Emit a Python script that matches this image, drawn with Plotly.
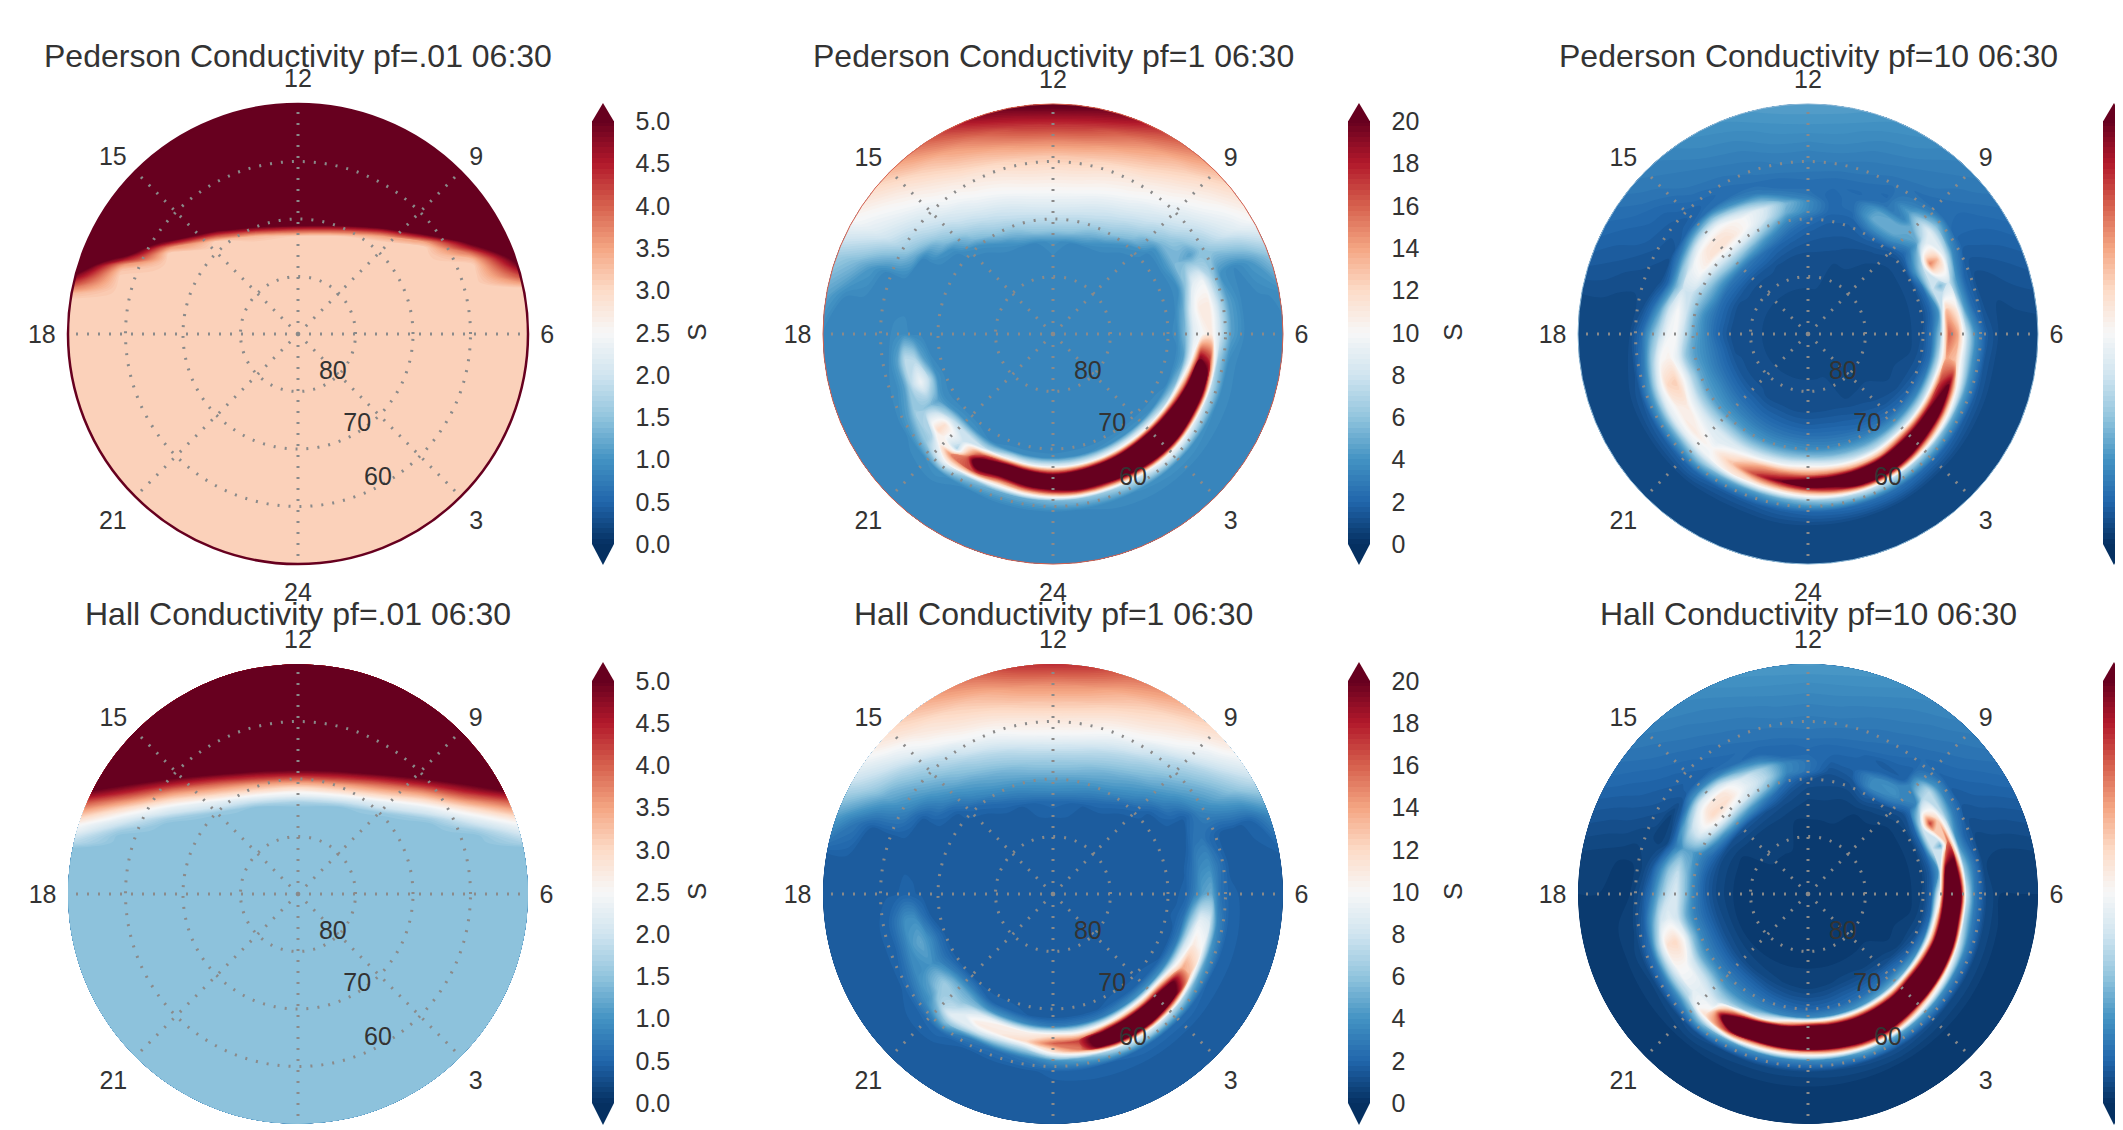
import math
import plotly.graph_objects as go

PAGE_W, PAGE_H, BODY = 2123, 1130, 8      # the page keeps its default 8 px body margin
W, H = PAGE_W - BODY, PAGE_H - BODY

MLT_ANGLE = list(range(0, 360, 10))       # degrees clockwise from 12 MLT
COLAT = [0, 8, 13, 16, 18, 20, 21.5, 23, 24.5, 26, 27.5, 29, 31, 33.5, 36.5, 40]
DISK_U = [-1, -.8, -.6, -.4, -.2, 0, .2, .4, .6, .8, 1]
DISK_Y = [-40, -39, -37, -34, -30, -25, -20, -15, -10, -5, 0, 3, 6, 7, 8, 9, 10, 11, 12,
          13, 14, 15, 16, 17, 18, 19, 20, 21, 22, 23, 25, 28, 31, 34, 37, 39, 40]
MLT_LABELS = ["12", "9", "6", "3", "24", "21", "18", "15"]
LAT_LABELS = ["80", "70", "60"]
LAT_LABEL_R = [9.05, 18.9, 28.7]
LAT_LABEL_T = [138, 147, 151]
RDBU_R = ["#053061", "#2166ac", "#4393c3", "#92c5de", "#d1e5f0", "#f7f7f7",
          "#fddbc7", "#f4a582", "#d6604d", "#b2182b", "#67001f"]

P = 3.1
PED_001 = [[P]*11]*13 + [
 [3.3,P,P,P,P,P,P,P,P,P,P],
 [3.8,P,P,P,P,P,P,P,P,P,P],
 [4.3,P,P,P,P,P,P,P,P,P,3.6],
 [4.8,P,P,P,P,P,P,P,P,P,4.1],
 [5.3,3.2,P,P,P,P,P,P,P,P,4.5],
 [5.8,3.6,P,P,P,P,P,P,P,P,4.9],
 [6,4.6,P,P,P,P,P,P,P,3.3,5.2],
 [6,5.4,P,P,P,P,P,P,P,3.8,5.6],
 [6,6,3.6,P,P,P,P,P,P,4.5,6],
 [6,6,4.7,P,P,P,P,P,3.5,5.1,6],
 [6,6,5.7,4.1,3.3,P,P,3.5,4.6,6,6],
 [6,6,6,5.1,4.4,4.1,4.1,4.5,5.6,6,6],
 [6,6,6,6,5.4,5.2,5.2,5.6,6,6,6],
] + [[6]*11]*11

Q = 1.45
HALL_001 = [[Q]*11]*14 + [
 [1.5,Q,Q,Q,Q,Q,Q,Q,Q,Q,Q],
 [1.8,Q,Q,Q,Q,Q,Q,Q,Q,Q,1.7],
 [2,Q,Q,Q,Q,Q,Q,Q,Q,Q,1.9],
 [2.3,1.6,Q,Q,Q,Q,Q,Q,Q,1.6,2.15],
 [2.5,1.9,Q,Q,Q,Q,Q,Q,Q,1.9,2.4],
 [2.9,2.2,1.6,Q,Q,Q,Q,Q,1.6,2.2,2.75],
 [3.3,2.55,2,1.55,Q,Q,Q,1.55,2,2.55,3.2],
 [3.7,3,2.3,2,Q,Q,Q,2,2.3,3,3.6],
 [4.1,3.5,2.8,2.3,1.9,1.7,1.9,2.3,2.8,3.5,4],
 [4.6,4,3.3,2.9,2.4,2.2,2.4,2.9,3.3,4,4.5],
 [5,4.5,3.8,3.4,3,2.7,3,3.4,3.8,4.5,5],
 [5.5,4.9,4.4,3.9,3.5,3.3,3.5,3.9,4.4,4.9,5.5],
 [6,5.4,4.9,4.5,4.2,4,4.2,4.5,4.9,5.4,6],
 [6,6,5.5,5.1,4.8,4.7,4.8,5.1,5.5,6,6],
 [6,6,6,5.6,5.4,5.3,5.4,5.6,6,6,6],
] + [[6]*11]*8

B = 3.4
PED_1 = [
 [B,B,3.4,3.9,6,7.4,8.2,9,9.8,10.4,11,11.7,12.8,14.8,17.4,20.5],
 [B,B,3.4,3.5,5.9,7.2,8,8.8,9.6,10.3,10.9,11.6,12.6,14.5,17,20],
 [B,B,B,B,5,6.6,7.6,8.2,9,9.8,10.4,11,11.9,13.5,15.6,18.8],
 [B,B,B,B,3.9,5.9,6.8,7.6,8.3,9.1,9.8,10.4,11.1,12.4,14,16.5],
 [B,B,B,B,B,3.9,5.5,6.4,7.3,8,8.6,9.4,10.1,11,12.3,14.4],
 [B,B,B,B,B,B,B,4,5.5,6.3,7.2,7.8,8.5,9.6,10.6,12],
 [B,B,B,B,B,B,B,4.2,5.5,5,4.5,5.6,6.6,7.7,8.8,10],
 [B,B,B,B,B,B,B,3.7,6,9,9.5,7,4,B,4.2,6],
 [B,B,B,B,B,B,3.5,5,9,11,11,8,4.5,B,B,3.6],
 [B,B,B,B,B,B,3.6,5.5,9,10,11,8,4.5,B,B,B],
 [B,B,B,B,B,B,B,4.5,10,20,18,6.5,3.6,B,B,B],
 [B,B,B,B,B,B,B,5.5,15,28,24,7.5,3.7,B,B,B],
 [B,B,B,B,B,B,3.6,7,20,30,25,8.5,3.8,B,B,B],
 [B,B,B,B,B,B,3.8,9,24,34,28,10,4,B,B,B],
 [B,B,B,B,B,B,4,10,26,34,26,10,4,B,B,B],
 [B,B,B,B,B,B,4,10,25,32,22,8,3.8,B,B,B],
 [B,B,B,B,B,B,3.8,9.5,24,30,19,6.5,3.6,B,B,B],
 [B,B,B,B,B,B,3.7,9,22,28,19,6,3.5,B,B,B],
 [B,B,B,B,B,B,3.6,9,20,26,17,5.5,B,B,B,B],
 [B,B,B,B,B,B,3.6,9,22,25,15,5,B,B,B,B],
 [B,B,B,B,B,B,3.6,9.5,23,22,13,5,B,B,B,B],
 [B,B,B,B,B,B,3.5,7,17,24,17,6,B,B,B,B],
 [B,B,B,B,B,B,4,8,8,7,15,10,4,B,B,B],
 [B,B,B,B,B,B,4,7.5,11.5,12,7,6,3.6,B,B,B],
 [B,B,B,B,B,B,3.6,4.5,5.5,6,6.5,4.5,B,B,B,B],
 [B,B,B,B,B,B,4,7.5,9.5,7.5,4.5,3.6,B,B,B,B],
 [B,B,B,B,B,B,3.5,4.5,7,7.5,4.5,3.5,B,B,B,B],
 [B,B,B,B,B,B,B,B,B,3.7,3.6,B,B,B,B,B],
 [B,B,B,B,B,B,B,B,B,B,B,B,B,B,B,4.6],
 [B,B,B,B,B,B,B,B,B,B,B,B,B,4.2,5.5,6.5],
 [B,B,B,B,B,B,B,B,B,B,5,6.1,7,8,9,10],
 [B,B,B,B,B,B,B,4,5.5,6.3,7.2,7.8,8.5,9.6,10.6,12],
 [B,B,B,B,B,3.9,5.5,6.4,7.3,8,8.6,9.4,10.1,11,12.3,14.4],
 [B,B,B,B,3.9,5.9,6.8,7.6,8.3,9.1,9.8,10.4,11.1,12.4,14,16.5],
 [B,B,B,B,5,6.6,7.6,8.2,9,9.8,10.4,11,11.9,13.5,15.6,18.8],
 [B,B,3.4,3.5,5.9,7.2,8,8.8,9.6,10.3,10.9,11.6,12.6,14.5,17,20],
]

G = 1.7
HALL_1 = [
 [G,G,G,2.2,3.6,4.6,5.5,6.3,7.2,8.4,9.6,10.5,11.5,12.9,14.7,17.5],
 [G,G,G,2,3.4,4.4,5.3,6.1,7,8,9.3,10.3,11.2,12.6,14.4,17],
 [G,G,G,G,2.9,4,4.8,5.5,6.4,7.2,8.3,9.4,10.5,11.8,13.3,15.5],
 [G,G,G,G,2.2,3.4,4.2,4.8,5.6,6.4,7.2,8.3,9.7,11,12.2,14.2],
 [G,G,G,G,G,2.2,3.2,3.9,4.5,5.3,5.9,6.7,7.6,9.6,11,12.6],
 [G,G,G,G,G,G,G,2.3,3.2,3.8,4.4,5,5.8,7,8.9,10.8],
 [G,G,G,G,G,G,G,G,G,G,2.4,3.3,4,4.9,6.1,7.7],
 [G,G,G,G,G,G,G,G,G,2.6,2.8,2.2,G,G,1.8,3.5],
 [G,G,G,G,G,G,G,G,2.5,3.6,3.8,2.8,G,G,G,G],
 [G,G,G,G,G,G,G,1.9,3,4.5,5,2.6,1.8,G,G,G],
 [G,G,G,G,G,G,1.8,2.6,6,9,8.5,3.5,1.9,G,G,G],
 [G,G,G,G,G,G,G,3,8,11,10,4.2,2,G,G,G],
 [G,G,G,G,G,G,G,3.5,9.5,14,13,5,2,G,G,G],
 [G,G,G,G,G,G,2,4,14,24,21,7,2.2,G,G,G],
 [G,G,G,G,G,G,2,4,14,28,26,8.5,2.2,G,G,G],
 [G,G,G,G,G,G,2,3.5,13,27,28,9,2.2,G,G,G],
 [G,G,G,G,G,G,G,3,11,24,24,7,2,G,G,G],
 [G,G,G,G,G,G,G,3,10,17,15,5,1.9,G,G,G],
 [G,G,G,G,G,G,G,3,11,16,11,4,1.8,G,G,G],
 [G,G,G,G,G,G,G,3.5,10.5,12,6.5,2.8,G,G,G,G],
 [G,G,G,G,G,G,2,4,10.5,11,6.5,2.5,G,G,G,G],
 [G,G,G,G,G,G,2,4,9,11,8,3,G,G,G,G],
 [G,G,G,G,G,G,3,5,6,7.5,9,6,2.2,G,G,G],
 [G,G,G,G,G,G,3,5,6.5,6,4.5,3.5,2,G,G,G],
 [G,G,G,G,G,G,2.4,3.3,4,3.8,3.6,2.6,G,G,G,G],
 [G,G,G,G,G,G,2.6,3.8,4.8,4.2,3,2,G,G,G,G],
 [G,G,G,G,G,G,G,2.6,3.8,3.8,2.8,2,G,G,G,G],
 [G,G,G,G,G,G,G,G,1.8,1.9,G,G,G,G,G,G],
 [G]*16,
 [G,G,G,G,G,G,G,G,G,G,G,G,G,G,2.8,4.5],
 [G,G,G,G,G,G,G,G,G,G,2.4,3.3,4,4.9,6.5,8],
 [G,G,G,G,G,G,G,2.3,3.2,3.8,4.4,5,5.8,7,8.9,10.8],
 [G,G,G,G,G,2.2,3.2,3.9,4.5,5.3,5.9,6.7,7.6,9.6,11,12.6],
 [G,G,G,G,2.2,3.4,4.2,4.8,5.6,6.4,7.2,8.3,9.7,11,12.2,14.2],
 [G,G,G,G,2.9,4,4.8,5.5,6.4,7.2,8.3,9.4,10.5,11.8,13.3,15.5],
 [G,G,G,2,3.4,4.4,5.3,6.1,7,8,9.3,10.3,11.2,12.6,14.4,17],
]

PED_10 = [
 [1,1,1.1,1.5,1.8,2.4,3.5,3.6,2.6,2.4,2.6,2.9,3.1,3.5,4,4.5],
 [1,1,1.1,1.4,1.6,1.8,2.1,2.1,2.1,2.3,2.5,2.8,3.1,3.5,3.9,4.4],
 [1,1,1,1.3,1.5,1.7,2,2.4,2.5,2.2,2.4,2.7,2.9,3.2,3.6,4.1],
 [1,1,1,1.1,1.4,2,3.5,5,4.5,2.6,2.2,2.4,2.7,3,3.4,3.8],
 [1,1,1,1,1.2,1.7,3.5,5,5,3.4,4.5,3.2,2.4,2.8,3,3.3],
 [1,1,1,1,1,1.2,2,3.2,4.5,7.5,9,6,2.5,2.3,2.6,2.9],
 [1,1,1,1,1,1.2,4,7,15,13,8,3.5,1.8,1.9,2,2.3],
 [1,1,1,1,1,1.2,2.4,8,5.5,8,4,2,1.2,1.3,1.5,1.7],
 [1,1,1,1,1,1.1,2,4,13,11,4.5,2.2,1.2,1,1.1,1.2],
 [1,1,1,1,1,1.3,2.5,6,16,14,8,4,1.6,.9,.8,.8],
 [1,1,1,1,1,1.4,2.4,7,14,13,8,4,1.5,.8,.8,.8],
 [1,1,1,1,1.1,1.6,3,8,17,20,10,4.5,1.6,.8,.8,.8],
 [1,1,1,1,1.2,1.9,3.5,8,18,25,13,5,1.7,.8,.8,.8],
 [1,1,1,1.1,1.4,2.2,4,8,18,28,16,6,2,.8,.8,.8],
 [1,1,1,1.3,1.7,2.6,4.2,8,17,29,20,7,2.2,.8,.8,.8],
 [1,1,1,1.5,2,3,4.5,7.5,14,27,24,8,2.5,.9,.8,.8],
 [1,1,1.1,1.7,2.3,3.3,5,8,14,26,22,8,2.4,.9,.8,.8],
 [1,1,1.1,1.8,2.5,3.5,5.5,9,15,25,17,7,2.2,.9,.8,.8],
 [1,1,1.1,1.8,2.6,3.7,6,10,15,24,14,6,2,.9,.8,.8],
 [1,1,1.1,1.9,2.7,3.9,6,9.5,15,20,12,5,1.8,.9,.8,.8],
 [1,1,1.2,2,2.8,4,6,9,14,17,11,4.5,1.6,.8,.8,.8],
 [1,1,1.2,2.1,3,4.2,6,8.5,11,13,11,5,1.6,.8,.8,.8],
 [1,1,1.3,2.3,3.2,4.5,6.5,8.5,9,10,9.5,6,2,.8,.8,.8],
 [1,1,1.3,2.4,3.4,4.5,6.5,8.5,10,11,9,5,1.8,.8,.8,.8],
 [1,1,1.3,2.5,3.6,4.6,6.5,9,11,10.5,9,5,1.7,.8,.8,.8],
 [1,1,1.3,2.5,3.5,4.8,7,10,12.5,12,8.5,4.5,1.5,.8,.8,.8],
 [1,1,1.2,2.5,3.5,4.5,6,9,10.5,10,6.5,3,1.1,.8,.8,.8],
 [1,1,1.1,2.2,3.5,5,7.5,10,9.5,7,4.5,2.2,1,.8,.8,.8],
 [1,1,1.2,2.3,3.5,5.5,8,10,8,4.5,2.2,1.2,.9,.9,1,1],
 [1,1,1.2,2.4,4.5,6.5,8,8,5,2,1,1.1,1.2,1.3,1.5,1.7],
 [1,1,1.3,2.6,5,8,10,9.5,6.5,3,1.3,1.4,1.6,1.9,2,2.3],
 [1,1,1.3,2.8,6,9,11.5,11,9,5,2,1.6,1.8,2.1,2.6,2.9],
 [1,1,1.3,2.8,6,9.5,11.5,11,9.5,6,2.5,2,2.4,2.8,3,3.3],
 [1,1,1.3,2.5,5,8.5,10,10,7.5,4,2.4,2.4,2.7,3,3.4,3.8],
 [1,1,1.2,2,3.5,6,8,8.5,5.5,3,2.4,2.7,2.9,3.2,3.6,4.1],
 [1,1,1.1,1.7,2.3,3.5,5,5.5,3.2,2.3,2.5,2.9,3.1,3.5,3.9,4.4],
]

HALL_10 = [
 [.5,.5,.5,.7,.9,1.3,2.6,2.6,2.2,2.3,2.6,2.8,3,3.3,3.7,4.3],
 [.5,.5,.5,.7,.9,1.1,1.3,1.7,2,2.2,2.5,2.7,3,3.3,3.7,4.2],
 [.5,.5,.5,.6,.8,1.1,1.5,1.8,1.9,2.1,2.4,2.6,2.8,3.1,3.5,4],
 [.5,.5,.5,.5,.9,1.8,3.5,3.6,2,1.6,2.2,2.4,2.6,2.9,3.2,3.6],
 [.5,.5,.5,.5,.7,1.2,3,4,3.4,1.8,1.8,2.1,2.3,2.6,2.9,3.3],
 [.5,.5,.5,.5,.5,.8,1.2,2.5,3.5,7,7.5,4,1.9,2.2,2.5,2.8],
 [.5,.5,.5,.5,.5,.7,2,8,17,12,6,3,1.5,1.7,1.9,2.2],
 [.5,.5,.5,.5,.5,.7,2,8,5,16,4,2,1,1.1,1.2,1.4],
 [.5,.5,.5,.5,.5,.7,1.6,4,22,22,6,3,.8,.6,.6,.7],
 [.5,.5,.5,.5,.5,.8,2,10,30,28,8,3,1,.5,.5,.5],
 [.5,.5,.5,.5,.5,.9,2.2,14,30,26,7,3,1,.5,.5,.5],
 [.5,.5,.5,.5,.6,1.2,3,15,31,30,9,3.5,1,.5,.5,.5],
 [.5,.5,.5,.5,.7,1.8,4,18,32,32,11,3.5,1,.5,.5,.5],
 [.5,.5,.5,.6,1.1,2.5,5,20,34,34,13,4,1,.5,.5,.5],
 [.5,.5,.5,.7,1.4,2.6,5,18,34,34,16,4.5,1.1,.5,.5,.5],
 [.5,.5,.5,.8,1.5,2.5,4.5,18,34,34,20,5,1.2,.5,.5,.5],
 [.5,.5,.5,.8,1.5,2.3,4,18,33,33,19,5,1.1,.5,.5,.5],
 [.5,.5,.5,.7,1.3,2.1,3.7,19,33,33,16,4,1,.5,.5,.5],
 [.5,.5,.5,.6,1.2,2,3.5,20,32,32,14,3.5,.9,.5,.5,.5],
 [.5,.5,.5,.7,1.3,2.2,3.5,15,32,32,14,3.5,.9,.5,.5,.5],
 [.5,.5,.5,.8,1.5,2.5,3.5,9,28,32,15,4,.9,.5,.5,.5],
 [.5,.5,.5,.9,1.8,2.8,3.7,6,18,30,18,5,1,.5,.5,.5],
 [.5,.5,.5,1,2,3,4,6,8,10,12,6,1.2,.5,.5,.5],
 [.5,.5,.5,1.1,2.1,3.2,5,7.5,9,9,7,3.5,.9,.5,.5,.5],
 [.5,.5,.5,1.2,2.2,3.3,5,8,10,10,7,3,.8,.5,.5,.5],
 [.5,.5,.5,1.2,2.2,3.5,6,10,12,11.5,7,2.6,.9,.5,.5,.5],
 [.5,.5,.5,1.1,2,3.2,5,8,9,8,4.5,1.8,.7,.5,.5,.5],
 [.5,.5,.5,1,1.8,3.5,6,8.5,7.5,5,2.5,1.2,.5,.5,.5,.5],
 [.5,.5,.5,1,1.8,3.5,5.5,7.5,6,3.5,1.5,.8,.5,.5,.6,.7],
 [.5,.5,.5,1,2.2,3.6,4.5,4.5,3,1,.6,.8,.9,1.1,1.2,1.4],
 [.5,.5,.5,1.1,3.5,7.5,9,8,5,1.6,.7,1.3,1.5,1.7,1.9,2.2],
 [.5,.5,.6,1.3,5,10,12,11,8.5,4,1.8,1.7,1.9,2.2,2.5,2.8],
 [.5,.5,.6,1.4,5,9.5,11.5,11,8,3.5,1.9,2.1,2.3,2.6,2.9,3.3],
 [.5,.5,.6,1.3,4,8,9,8.5,5,2.4,2.2,2.4,2.6,2.9,3.2,3.6],
 [.5,.5,.6,1.1,2.4,5.5,7,6.5,3.5,2,2.4,2.6,2.8,3.1,3.5,4],
 [.5,.5,.5,.9,1.3,2.3,3.5,3.5,2,2.2,2.5,2.7,3,3.3,3.7,4.2],
]

TITLES = ["Pederson Conductivity pf=.01 06:30", "Pederson Conductivity pf=1 06:30",
          "Pederson Conductivity pf=10 06:30", "Hall Conductivity pf=.01 06:30",
          "Hall Conductivity pf=1 06:30", "Hall Conductivity pf=10 06:30"]
TABLES = [PED_001, PED_1, PED_10, HALL_001, HALL_1, HALL_10]
VMAX = [5, 20, 20, 5, 20, 20]
TICK5 = [0, .5, 1, 1.5, 2, 2.5, 3, 3.5, 4, 4.5, 5]
TICK5_TEXT = ["0.0", "0.5", "1.0", "1.5", "2.0", "2.5", "3.0", "3.5", "4.0", "4.5", "5.0"]
TICK20 = [0, 2, 4, 6, 8, 10, 12, 14, 16, 18, 20]
RIM = [("#67001f", 2.5), ("#d6604d", 1), ("#8fbad8", 1), None, None, None]

CX = [298, 1053, 1808]
CY = [334, 894]
R = 230
CB_X = [592, 1348, 2103]
CB_Y = [(121.5, 544, 103, 565), (681, 1103, 662, 1125)]
FONT = "Liberation Sans"
TXT = "#333333"
GRID = "#8a8a8a"


def fx(px):
    return (px - BODY) / W


def fy(py):
    return 1 - (py - BODY) / H


colorscale = [[i / 10, c] for i, c in enumerate(RDBU_R)]
polar_a = MLT_ANGLE + [360]
polar_x = [[c * math.sin(math.radians(t)) for t in polar_a] for c in COLAT]
polar_y = [[c * math.cos(math.radians(t)) for t in polar_a] for c in COLAT]
disk_x = [[u * math.sqrt(max(40 ** 2 - y ** 2, 0)) for u in DISK_U] for y in DISK_Y]
disk_y = [[y for _ in DISK_U] for y in DISK_Y]

fig = go.Figure()
layout = {}
shapes, annots = [], []
for i in range(6):
    row, col = i // 3, i % 3
    s = "" if i == 0 else str(i + 1)
    cx, cy = CX[col], CY[row]
    dom_x = [fx(cx - R), fx(cx + R)]
    dom_y = [fy(cy + R), fy(cy - R)]
    layout["xaxis" + s] = dict(domain=dom_x, range=[-40, 40], visible=False, anchor="y" + s)
    layout["yaxis" + s] = dict(domain=dom_y, range=[-40, 40], visible=False, anchor="x" + s)
    rim = RIM[i]
    layout["polar" + s] = dict(
        domain=dict(x=dom_x, y=dom_y),
        bgcolor="rgba(0,0,0,0)",
        angularaxis=dict(
            direction="clockwise", rotation=90, tickmode="array",
            tickvals=list(range(0, 360, 45)), ticktext=MLT_LABELS,
            ticks="outside", ticklen=6, tickcolor="rgba(0,0,0,0)",
            tickfont=dict(family=FONT, size=25, color=TXT),
            gridcolor=GRID, gridwidth=2.5, griddash="2px,9px",
            showline=rim is not None,
            linecolor=rim[0] if rim else "white", linewidth=rim[1] if rim else 0),
        radialaxis=dict(range=[0, 40], tickmode="array", tickvals=[10, 20, 30],
                        showticklabels=False, ticks="", showline=False,
                        gridcolor=GRID, gridwidth=2.5, griddash="2px,9px"),
    )
    if i in (0, 3):
        a, b, gx, gy = DISK_U, DISK_Y, disk_x, disk_y
        z = TABLES[i]
    else:
        a, b, gx, gy = polar_a, COLAT, polar_x, polar_y
        n = len(MLT_ANGLE)
        z = [[TABLES[i][j % n][k] for j in range(n + 1)] for k in range(len(COLAT))]
    vmax = VMAX[i]
    cid = "c%d" % i
    fig.add_trace(go.Carpet(
        carpet=cid, a=a, b=b, x=gx, y=gy,
        xaxis="x" + s, yaxis="y" + s,
        aaxis=dict(type="linear", showgrid=False, startline=False, endline=False,
                   showticklabels="none", minorgridcount=0, smoothing=1),
        baxis=dict(type="linear", showgrid=False, startline=False, endline=False,
                   showticklabels="none", minorgridcount=0, smoothing=1),
    ))
    y0, y1, tip0, tip1 = CB_Y[row]
    fig.add_trace(go.Contourcarpet(
        carpet=cid, a=a, b=b, z=z, xaxis="x" + s, yaxis="y" + s,
        autocontour=False,
        contours=dict(start=0, end=vmax, size=vmax / 80, coloring="fill", showlines=False),
        line=dict(width=0),
        colorscale=colorscale, zmin=0, zmax=vmax, zauto=False,
        colorbar=dict(
            x=fx(CB_X[col]), xanchor="left", xpad=0,
            y=fy((y0 + y1) / 2), yanchor="middle", ypad=0,
            len=y1 - y0, lenmode="pixels", thickness=22, thicknessmode="pixels",
            tickmode="array",
            tickvals=TICK5 if vmax == 5 else TICK20,
            ticktext=TICK5_TEXT if vmax == 5 else [str(v) for v in TICK20],
            ticks="outside", ticklen=17, tickcolor="rgba(0,0,0,0)",
            tickfont=dict(family=FONT, size=25, color=TXT),
            outlinewidth=0, borderwidth=0),
    ))
    fig.add_trace(go.Scatterpolar(
        subplot="polar" + s, r=LAT_LABEL_R, theta=LAT_LABEL_T, text=LAT_LABELS,
        mode="text", textfont=dict(family=FONT, size=25, color=TXT), showlegend=False,
        hoverinfo="skip"))
    annots.append(dict(text=TITLES[i], xref="paper", yref="paper", x=fx(cx),
                       y=fy([56, 614][row]), xanchor="center", yanchor="middle",
                       showarrow=False, font=dict(family=FONT, size=32, color=TXT)))
    annots.append(dict(text="S", xref="paper", yref="paper", x=fx(CB_X[col] + 105),
                       y=fy((y0 + y1) / 2), xanchor="center", yanchor="middle",
                       textangle=-90, showarrow=False,
                       font=dict(family=FONT, size=26, color=TXT)))
    x0 = CB_X[col]
    for yb, yt, colr in ((y0, tip0, RDBU_R[-1]), (y1, tip1, RDBU_R[0])):
        p = "M %.5f %.5f L %.5f %.5f L %.5f %.5f Z" % (
            fx(x0), fy(yb), fx(x0 + 11), fy(yt), fx(x0 + 22), fy(yb))
        shapes.append(dict(type="path", xref="paper", yref="paper", path=p,
                           fillcolor=colr, line=dict(width=0)))

fig.update_layout(width=W, height=H, margin=dict(l=0, r=0, t=0, b=0, autoexpand=False),
                  paper_bgcolor="white", plot_bgcolor="rgba(0,0,0,0)", showlegend=False,
                  shapes=shapes, annotations=annots, **layout)
fig.write_html("out.html")
